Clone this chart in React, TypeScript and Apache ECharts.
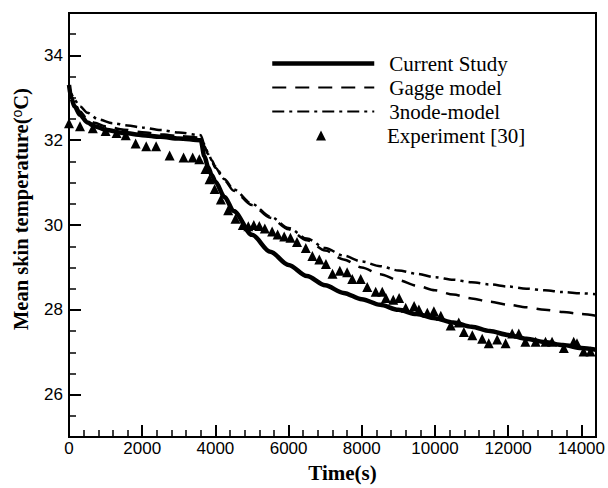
import React, { useEffect, useRef } from "react";
import * as echarts from "echarts";

// ---- Data ----
const currentTime = [0, 60, 150, 300, 500, 700, 1000, 1500, 2000, 2500, 3000, 3600, 3700, 3800, 3900, 4000, 4250, 4500, 5000, 5500, 6000, 6500, 7000, 7500, 8000, 8500, 9000, 9500, 10000, 10500, 11000, 11500, 12000, 12500, 13000, 13500, 14000, 14400];
const currentTemp = [33.3, 33.0, 32.8, 32.6, 32.42, 32.33, 32.25, 32.17, 32.12, 32.08, 32.04, 32.0, 31.62, 31.37, 31.18, 31.02, 30.66, 30.33, 29.77, 29.37, 29.06, 28.8, 28.58, 28.4, 28.25, 28.12, 28.0, 27.9, 27.8, 27.7, 27.6, 27.5, 27.41, 27.32, 27.24, 27.17, 27.1, 27.06];

const gaggeTime = [0, 60, 150, 300, 500, 700, 1000, 1500, 2000, 2500, 3000, 3600, 3700, 3800, 3900, 4000, 4250, 4500, 5000, 5500, 6000, 6500, 7000, 7500, 8000, 8500, 9000, 9500, 10000, 10500, 11000, 11500, 12000, 12500, 13000, 13500, 14000, 14400];
const gaggeTemp = [33.3, 33.05, 32.88, 32.68, 32.5, 32.41, 32.33, 32.25, 32.19, 32.14, 32.1, 32.06, 31.86, 31.67, 31.5, 31.35, 31.05, 30.81, 30.47, 30.17, 29.9, 29.64, 29.4, 29.19, 29.0, 28.84, 28.7, 28.57, 28.46, 28.36, 28.27, 28.19, 28.12, 28.06, 28.0, 27.95, 27.9, 27.86];

const nodeTime = [0, 60, 150, 300, 500, 800, 1200, 1600, 2000, 2500, 3000, 3600, 3700, 3800, 3900, 4000, 4250, 4500, 5000, 5500, 6000, 6500, 7000, 7500, 8000, 8500, 9000, 9500, 10000, 10500, 11000, 11500, 12000, 12500, 13000, 13500, 14000, 14400];
const nodeTemp = [33.3, 33.1, 32.95, 32.8, 32.65, 32.49, 32.4, 32.35, 32.3, 32.24, 32.18, 32.12, 31.9, 31.7, 31.53, 31.38, 31.08, 30.84, 30.5, 30.2, 29.93, 29.68, 29.46, 29.28, 29.14, 29.03, 28.93, 28.85, 28.77, 28.71, 28.65, 28.6, 28.55, 28.5, 28.46, 28.42, 28.39, 28.37];

const expTime = [0, 300, 650, 1000, 1300, 1550, 1820, 2110, 2380, 2750, 3130, 3380, 3560, 3730, 3840, 3980, 4150, 4350, 4550, 4750, 4900, 5050, 5200, 5350, 5550, 5700, 5880, 6050, 6230, 6470, 6650, 6840, 7020, 7200, 7400, 7600, 7740, 7970, 8150, 8380, 8560, 8660, 8860, 9020, 9200, 9430, 9560, 9790, 9970, 10160, 10430, 10650, 10790, 11020, 11290, 11470, 11700, 11930, 12110, 12290, 12470, 12750, 13020, 13200, 13520, 13790, 13880, 14060, 14250];
const expTemp = [32.4, 32.33, 32.28, 32.22, 32.17, 32.12, 31.92, 31.86, 31.86, 31.64, 31.59, 31.59, 31.55, 31.32, 31.08, 30.85, 30.6, 30.35, 30.15, 30.0, 29.97, 30.0, 29.98, 29.92, 29.85, 29.78, 29.73, 29.7, 29.6, 29.46, 29.27, 29.19, 29.08, 28.85, 28.92, 28.89, 28.73, 28.73, 28.54, 28.43, 28.43, 28.28, 28.24, 28.28, 28.05, 28.09, 28.01, 27.93, 27.97, 27.86, 27.63, 27.7, 27.48, 27.4, 27.32, 27.21, 27.3, 27.21, 27.44, 27.44, 27.25, 27.25, 27.25, 27.25, 27.1, 27.25, 27.21, 27.02, 27.02];

const xMajorTicks = [0, 2000, 4000, 6000, 8000, 10000, 12000, 14000];
const yMajorTicks = [26, 28, 30, 32, 34];

const seriesNames = ["Current Study", "Gagge model", "3node-model", "Experiment [30]"];

const zip = (xs: number[], ys: number[]) => xs.map((x, i) => [x, ys[i]]);

export default function App() {
  const ref = useRef<HTMLDivElement>(null);

  useEffect(() => {
    if (!ref.current) return;
    const chart = echarts.init(ref.current, null, { renderer: "svg" });
    const black = "#000";
    const sans = "Liberation Sans, Arial, sans-serif";
    const serif = "Liberation Serif, Times New Roman, serif";

    const isEven = (v: number) =>
      Math.abs(v - Math.round(v)) < 1e-6 && Math.round(v) % 2 === 0;

    const legendText = {
      fontFamily: serif,
      fontSize: 21,
      color: black,
    };

    const option: any = {
      animation: false,
      backgroundColor: "#fff",
      grid: {
        left: 69,
        right: 10,
        top: 13,
        bottom: 38,
        show: true,
        borderColor: black,
        borderWidth: 2,
        containLabel: false,
      },
      legend: [
        {
          orient: "vertical",
          left: 270,
          top: 53,
          padding: 0,
          itemWidth: 102,
          itemHeight: 10,
          itemGap: 3,
          textStyle: { ...legendText, padding: [0, 0, 0, 10] },
          data: [
            { name: seriesNames[0], itemStyle: { opacity: 0 }, lineStyle: { width: 4.5 } },
            { name: seriesNames[1], itemStyle: { opacity: 0 } },
            { name: seriesNames[2], itemStyle: { opacity: 0 } },
          ],
        },
        {
          orient: "vertical",
          left: 316,
          top: 125,
          padding: 0,
          itemWidth: 10,
          itemHeight: 10,
          textStyle: { ...legendText, padding: [0, 0, 0, 56] },
          data: [{ name: seriesNames[3], icon: "triangle" }],
        },
      ],
      xAxis: [
        {
          type: "value",
          min: 0,
          max: 14400,
          interval: 400,
          position: "bottom",
          name: "Time(s)",
          nameLocation: "middle",
          nameGap: 19,
          nameTextStyle: {
            fontFamily: serif,
            fontWeight: "bold",
            fontSize: 21,
            color: black,
            padding: [0, 0, 0, 20],
          },
          axisLine: { show: true, lineStyle: { color: black, width: 2 } },
          axisTick: { show: true, inside: true, length: 7, lineStyle: { color: black, width: 1.5 } },
          axisLabel: {
            fontFamily: sans,
            fontSize: 17,
            color: black,
            margin: 3,
            formatter: (v: number) => (Math.round(v) % 2000 === 0 && v < 14400 ? String(v) : ""),
          },
          splitLine: { show: false },
        },
        {
          type: "value",
          min: 0,
          max: 14400,
          position: "bottom",
          offset: 0,
          axisLine: { show: false },
          axisTick: {
            show: true,
            inside: true,
            length: 12,
            customValues: xMajorTicks,
            lineStyle: { color: black, width: 2 },
          },
          axisLabel: { show: false },
          splitLine: { show: false },
        },
      ],
      yAxis: [
        {
          type: "value",
          min: 25,
          max: 35,
          interval: 0.5,
          position: "left",
          name: "{t|Mean skin temperature(}{s|o}{t|C)}",
          nameLocation: "middle",
          nameGap: 38,
          nameTextStyle: {
            color: black,
            padding: [0, 0, 0, 32],
            rich: {
              t: { fontFamily: serif, fontWeight: "bold", fontSize: 20.5, color: black },
              s: { fontFamily: sans, fontSize: 14, color: black, verticalAlign: "top", lineHeight: 14 },
            },
          },
          axisLine: { show: true, lineStyle: { color: black, width: 2 } },
          axisTick: { show: true, inside: true, length: 7, lineStyle: { color: black, width: 1.5 } },
          axisLabel: {
            fontFamily: sans,
            fontSize: 17,
            color: black,
            margin: 6,
            formatter: (v: number) => (isEven(v) && v > 25 && v < 35 ? String(Math.round(v)) : ""),
          },
          splitLine: { show: false },
        },
        {
          type: "value",
          min: 25,
          max: 35,
          position: "left",
          offset: 0,
          axisLine: { show: false },
          axisTick: {
            show: true,
            inside: true,
            length: 12,
            customValues: yMajorTicks,
            lineStyle: { color: black, width: 2 },
          },
          axisLabel: { show: false },
          splitLine: { show: false },
        },
      ],
      series: [
        {
          name: seriesNames[0],
          type: "line",
          xAxisIndex: 0,
          yAxisIndex: 0,
          data: zip(currentTime, currentTemp),
          symbol: "none",
          smooth: 0.3,
          smoothMonotone: "x",
          itemStyle: { color: black },
          lineStyle: { color: black, width: 4.5 },
          z: 3,
        },
        {
          name: seriesNames[1],
          type: "line",
          xAxisIndex: 0,
          yAxisIndex: 0,
          data: zip(gaggeTime, gaggeTemp),
          symbol: "none",
          smooth: 0.3,
          smoothMonotone: "x",
          itemStyle: { color: black },
          lineStyle: { color: black, width: 2.5, type: [14, 9] },
          z: 2,
        },
        {
          name: seriesNames[2],
          type: "line",
          xAxisIndex: 0,
          yAxisIndex: 0,
          data: zip(nodeTime, nodeTemp),
          symbol: "none",
          smooth: 0.3,
          smoothMonotone: "x",
          itemStyle: { color: black },
          lineStyle: { color: black, width: 2.5, type: [12, 5, 3, 5] },
          z: 2,
        },
        {
          name: seriesNames[3],
          type: "scatter",
          xAxisIndex: 0,
          yAxisIndex: 0,
          data: zip(expTime, expTemp),
          symbol: "triangle",
          symbolSize: 10,
          itemStyle: { color: black, opacity: 1 },
          z: 4,
        },
      ],
    };

    chart.setOption(option);
    return () => chart.dispose();
  }, []);

  return (
    <div
      ref={ref}
      style={{ position: "fixed", left: 0, top: 0, width: 608, height: 488, background: "#fff" }}
    />
  );
}
